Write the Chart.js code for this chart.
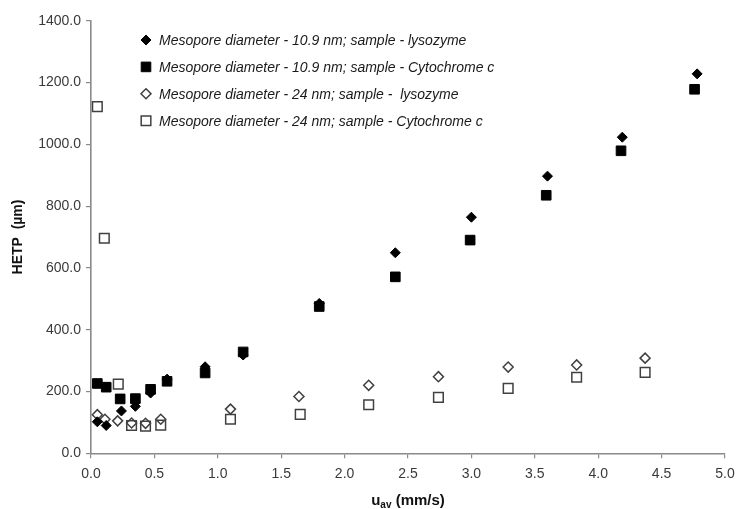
<!DOCTYPE html>
<html>
<head>
<meta charset="utf-8">
<script src="https://cdn.jsdelivr.net/npm/chart.js@4.4.1/dist/chart.umd.min.js"></script>
<style>
  html, body { margin: 0; padding: 0; background: #fff; }
  #wrap { width: 737px; height: 509px; position: relative; }
</style>
</head>
<body>
<div id="wrap"><canvas id="c" width="737" height="509"></canvas></div>
<script>
// HETP versus average linear velocity for two monolith mesopore sizes
const seriesLabels = [
  "Mesopore diameter - 10.9 nm; sample - lysozyme",
  "Mesopore diameter - 10.9 nm; sample - Cytochrome c",
  "Mesopore diameter - 24 nm; sample -  lysozyme",
  "Mesopore diameter - 24 nm; sample - Cytochrome c"
];

// 10.9 nm, lysozyme
const uLys109 = [0.05, 0.12, 0.24, 0.35, 0.47, 0.60, 0.90, 1.20, 1.80, 2.40, 3.00, 3.60, 4.19, 4.78];
const hLys109 = [102, 90, 137, 152, 195, 240, 280, 318, 485, 649, 764, 897, 1023, 1228];

// 10.9 nm, cytochrome c
const uCyt109 = [0.05, 0.12, 0.23, 0.35, 0.47, 0.60, 0.90, 1.20, 1.80, 2.40, 2.99, 3.59, 4.18, 4.76];
const hCyt109 = [226, 214, 176, 177, 207, 233, 260, 328, 475, 571, 690, 835, 979, 1178];

// 24 nm, lysozyme
const uLys24 = [0.05, 0.11, 0.21, 0.32, 0.43, 0.55, 1.10, 1.64, 2.19, 2.74, 3.29, 3.83, 4.37];
const hLys24 = [125, 110, 105, 98, 97, 110, 143, 184, 220, 248, 279, 286, 308];

// 24 nm, cytochrome c
const uCyt24 = [0.05, 0.105, 0.215, 0.32, 0.43, 0.55, 1.10, 1.65, 2.19, 2.74, 3.29, 3.83, 4.37];
const hCyt24 = [1122, 696, 224, 90, 88, 91, 110, 126, 157, 181, 210, 246, 262];

// Axis ticks
const xTicks = [0, 0.5, 1.0, 1.5, 2.0, 2.5, 3.0, 3.5, 4.0, 4.5, 5.0];
const yTicks = [0, 200, 400, 600, 800, 1000, 1200, 1400];

const pairs = (xs, ys) => xs.map((x, i) => ({ x: x, y: ys[i] }));

const FONT = "'Liberation Sans', Arial, sans-serif";
const AXIS = '#8a8a8a';
const TXT = '#3a3a3a';

const datasets = [
  { label: seriesLabels[0], data: pairs(uLys109, hLys109), pointStyle: 'rectRot',
    pointRadius: 5, backgroundColor: '#000', borderColor: '#000', borderWidth: 1 },
  { label: seriesLabels[1], data: pairs(uCyt109, hCyt109), pointStyle: 'rect',
    pointRadius: 6.8, backgroundColor: '#000', borderColor: '#000', borderWidth: 1 },
  { label: seriesLabels[2], data: pairs(uLys24, hLys24), pointStyle: 'rectRot',
    pointRadius: 5, backgroundColor: 'rgba(255,255,255,0)', borderColor: '#404040', borderWidth: 1.5 },
  { label: seriesLabels[3], data: pairs(uCyt24, hCyt24), pointStyle: 'rect',
    pointRadius: 6.8, backgroundColor: 'rgba(255,255,255,0)', borderColor: '#404040', borderWidth: 1.5 }
];
datasets.forEach(d => { d.showLine = false; d.pointHoverRadius = d.pointRadius; });

// Marker used in the in-plot key
function marker(ctx, style, x, y, r, fill, stroke, lw) {
  ctx.save();
  ctx.beginPath();
  if (style === 'rect') {
    const s = Math.SQRT1_2 * r;
    ctx.rect(x - s, y - s, 2 * s, 2 * s);
  } else {
    ctx.moveTo(x, y - r); ctx.lineTo(x + r, y); ctx.lineTo(x, y + r); ctx.lineTo(x - r, y);
    ctx.closePath();
  }
  ctx.fillStyle = fill; ctx.fill();
  ctx.lineWidth = lw; ctx.strokeStyle = stroke; ctx.stroke();
  ctx.restore();
}

const keyAndTitle = {
  id: 'keyAndTitle',
  afterDraw(chart) {
    const ctx = chart.ctx;
    // key, top left inside the plot
    chart.data.datasets.forEach((d, i) => {
      const y = 40 + i * 26.9;
      marker(ctx, d.pointStyle, 146, y, d.pointRadius, d.backgroundColor, d.borderColor, d.borderWidth);
      ctx.save();
      ctx.font = 'italic 14px ' + FONT;
      ctx.fillStyle = '#1a1a1a';
      ctx.textBaseline = 'middle';
      ctx.textAlign = 'left';
      ctx.fillText(d.label, 159, y + 1);
      ctx.restore();
    });
    // x-axis title with subscript
    const xs = chart.scales.x;
    const cx = (xs.left + xs.right) / 2;
    ctx.save();
    ctx.fillStyle = '#111';
    ctx.textBaseline = 'alphabetic';
    const big = 'bold 15px ' + FONT, small = 'bold 10px ' + FONT;
    ctx.font = big; const w1 = ctx.measureText('u').width;
    ctx.font = small; const w2 = ctx.measureText('av').width;
    ctx.font = big; const w3 = ctx.measureText(' (mm/s)').width;
    let x0 = cx - (w1 + w2 + w3) / 2;
    const base = 505;
    ctx.font = big; ctx.fillText('u', x0, base);
    ctx.font = small; ctx.fillText('av', x0 + w1, base + 3);
    ctx.font = big; ctx.fillText(' (mm/s)', x0 + w1 + w2, base);
    ctx.restore();
  }
};

new Chart(document.getElementById('c'), {
  type: 'scatter',
  data: { datasets: datasets },
  plugins: [keyAndTitle],
  options: {
    responsive: false,
    animation: false,
    devicePixelRatio: 1,
    layout: { padding: { top: 20.7, right: 12, left: 0, bottom: 0 } },
    plugins: { legend: { display: false }, tooltip: { enabled: false } },
    scales: {
      x: {
        type: 'linear', min: 0, max: 5,
        afterBuildTicks: s => { s.ticks = xTicks.map(v => ({ value: v })); },
        afterFit: s => { s.height = 55.7; s.paddingRight = 0; s.paddingLeft = 0; },
        ticks: { callback: v => Number(v).toFixed(1), color: TXT, padding: 7,
                 font: { family: FONT, size: 14 }, maxRotation: 0 },
        grid: { display: true, drawOnChartArea: false, drawTicks: true, tickLength: 5, color: AXIS, lineWidth: 1.2 },
        border: { display: true, color: AXIS, width: 1.6 }
      },
      y: {
        type: 'linear', min: 0, max: 1400,
        afterBuildTicks: s => { s.ticks = yTicks.map(v => ({ value: v })); },
        afterFit: s => { s.width = 91; },
        ticks: { callback: v => Number(v).toFixed(1), color: TXT, padding: 5,
                 font: { family: FONT, size: 14 } },
        grid: { display: true, drawOnChartArea: false, drawTicks: true, tickLength: 5, color: AXIS, lineWidth: 1.2 },
        border: { display: true, color: AXIS, width: 1.6 },
        title: { display: true, text: 'HETP  (µm)', color: '#111',
                 font: { family: FONT, size: 14, weight: 'bold' }, padding: { top: 10, bottom: 0 } }
      }
    }
  }
});
</script>
</body>
</html>
